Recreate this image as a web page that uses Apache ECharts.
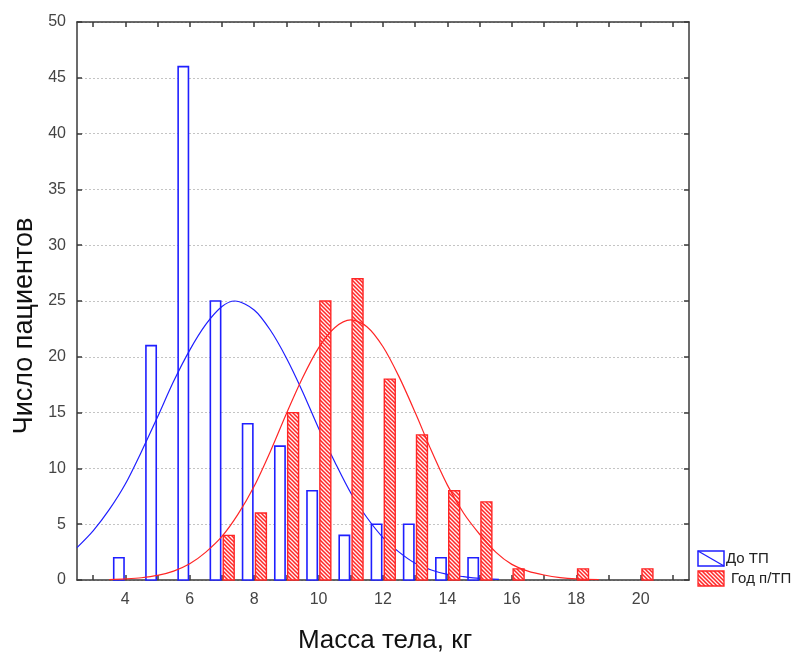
<!DOCTYPE html>
<html>
<head>
<meta charset="utf-8">
<script src="https://cdn.jsdelivr.net/npm/echarts@6/dist/echarts.min.js"></script>
<style>
  html, body { margin: 0; padding: 0; background: #fff; }
  #chart { width: 803px; height: 655px; }
</style>
</head>
<body>
<div id="chart"></div>
<script>
// Histogram bins (body mass, kg) and patient counts per group
const bins = [4, 5, 6, 7, 8, 9, 10, 11, 12, 13, 14, 15, 16, 17, 18, 19, 20];
const countBefore = [2, 21, 46, 25, 14, 12, 8, 4, 5, 5, 2, 2, 0, 0, 0, 0, 0];
const countYearAfter = [0, 0, 0, 4, 6, 15, 25, 27, 18, 13, 8, 7, 1, 0, 1, 0, 1];

// Fitted normal curves, sampled points [mass, count]
const curveBefore = [
  [2.5, 2.9], [3, 4.4], [3.5, 6.3], [4, 8.6], [4.5, 11.5], [5, 14.6], [5.5, 17.8],
  [6, 20.6], [6.5, 22.9], [7, 24.5], [7.4, 25.0], [8, 24.2], [8.5, 22.4], [9, 19.9],
  [9.5, 16.9], [10, 13.6], [10.5, 10.6], [11, 7.8], [11.5, 5.6], [12, 3.8], [12.5, 2.5],
  [13, 1.5], [13.5, 0.9], [14, 0.5], [14.5, 0.3], [15, 0.14], [15.6, 0.05]
];
const curveYearAfter = [
  [3.5, 0.04], [4, 0.1], [4.5, 0.2], [5, 0.41], [5.5, 0.8], [6, 1.45], [6.5, 2.5],
  [7, 3.9], [7.5, 5.9], [8, 8.4], [8.5, 11.5], [9, 14.9], [9.5, 18.1], [10, 20.8],
  [10.5, 22.6], [11, 23.3], [11.5, 22.7], [12, 20.9], [12.5, 18.2], [13, 15.0],
  [13.5, 11.6], [14, 8.5], [14.5, 6.0], [15, 4.1], [15.5, 2.5], [16, 1.4], [16.5, 0.8],
  [17, 0.45], [17.5, 0.22], [18, 0.1], [18.7, 0.03]
];

const xTicks = [3, 4, 5, 6, 7, 8, 9, 10, 11, 12, 13, 14, 15, 16, 17, 18, 19, 20, 21];
const xLabels = [4, 6, 8, 10, 12, 14, 16, 18, 20];

const seriesNames = ['До ТП', 'Год п/ТП'];
const xTitle = 'Масса тела, кг';
const yTitle = 'Число пациентов';

const BLUE = '#1f1fff';
const RED = '#ff2626';
const FRAME = '#3a3a3a';
const FONT = '"Liberation Sans", Arial, sans-serif';

// Diagonal hatch fill for the second group
function hatchPattern() {
  const c = document.createElement('canvas');
  c.width = 4; c.height = 4;
  const g = c.getContext('2d');
  g.fillStyle = '#fff2f2';
  g.fillRect(0, 0, 4, 4);
  g.strokeStyle = RED;
  g.lineWidth = 1.5;
  g.beginPath();
  g.moveTo(-1, -1); g.lineTo(5, 5);
  g.moveTo(-1, 3); g.lineTo(1, 5);
  g.moveTo(3, -1); g.lineTo(5, 1);
  g.stroke();
  return c;
}
const hatch = { image: hatchPattern(), repeat: 'repeat' };

function barSeries(name, values, left, right, style, z) {
  return {
    name: name,
    type: 'custom',
    z: z,
    data: bins.map((b, i) => [b, values[i]]),
    renderItem: function (params, api) {
      const x = api.value(0), v = api.value(1);
      if (!v) return null;
      const p0 = api.coord([x + left, v]);
      const p1 = api.coord([x + right, 0]);
      return {
        type: 'rect',
        shape: { x: p0[0], y: p0[1], width: p1[0] - p0[0], height: p1[1] - p0[1] },
        style: style
      };
    }
  };
}

const chart = echarts.init(document.getElementById('chart'), null, { renderer: 'canvas' });

const tickCommon = { show: true, inside: true, length: 5, lineStyle: { color: FRAME, width: 1.5 } };
const lineCommon = { show: true, onZero: false, lineStyle: { color: FRAME, width: 1.5 } };

chart.setOption({
  animation: false,
  backgroundColor: '#ffffff',
  grid: { left: 77, top: 22, right: 114, bottom: 75, containLabel: false },
  xAxis: [
    {
      type: 'value', min: 2.5, max: 21.5, position: 'bottom',
      axisLine: lineCommon,
      axisTick: Object.assign({}, tickCommon, { customValues: xTicks }),
      axisLabel: { customValues: xLabels, color: '#444', fontSize: 16, fontFamily: FONT, margin: 12 },
      splitLine: { show: false }
    },
    {
      type: 'value', min: 2.5, max: 21.5, position: 'top',
      axisLine: lineCommon,
      axisTick: Object.assign({}, tickCommon, { customValues: xTicks }),
      axisLabel: { show: false },
      splitLine: { show: false }
    }
  ],
  yAxis: [
    {
      type: 'value', min: 0, max: 50, interval: 5, position: 'left',
      axisLine: lineCommon,
      axisTick: tickCommon,
      axisLabel: { color: '#444', fontSize: 16, fontFamily: FONT, margin: 11 },
      splitLine: { show: true, lineStyle: { color: '#c4c4c4', type: [2, 2], width: 1 } }
    },
    {
      type: 'value', min: 0, max: 50, interval: 5, position: 'right',
      axisLine: lineCommon,
      axisTick: tickCommon,
      axisLabel: { show: false },
      splitLine: { show: false }
    }
  ],
  series: [
    barSeries(seriesNames[0], countBefore, -0.36, -0.04,
      { fill: '#ffffff', stroke: BLUE, lineWidth: 1.6 }, 2),
    {
      name: seriesNames[0] + ' fit', type: 'line', data: curveBefore, smooth: 0.3,
      showSymbol: false, z: 3, lineStyle: { color: BLUE, width: 1.2 }, itemStyle: { color: BLUE }
    },
    barSeries(seriesNames[1], countYearAfter, 0.04, 0.38,
      { fill: hatch, stroke: RED, lineWidth: 1.4 }, 4),
    {
      name: seriesNames[1] + ' fit', type: 'line', data: curveYearAfter, smooth: 0.3,
      showSymbol: false, z: 5, lineStyle: { color: RED, width: 1.2 }, itemStyle: { color: RED }
    }
  ],
  graphic: [
    {
      type: 'text', x: 385, y: 641,
      style: { text: xTitle, fontSize: 26, fontFamily: FONT, fill: '#111', align: 'center', verticalAlign: 'middle' }
    },
    {
      type: 'text', x: 25, y: 326, rotation: Math.PI / 2,
      style: { text: yTitle, fontSize: 27, fontFamily: FONT, fill: '#111', align: 'center', verticalAlign: 'middle' }
    },
    // Legend
    {
      type: 'group', x: 698, y: 551,
      children: [
        { type: 'rect', shape: { x: 0, y: 0, width: 26, height: 15 }, style: { fill: '#fff', stroke: BLUE, lineWidth: 1.5 } },
        { type: 'line', shape: { x1: 0, y1: 0, x2: 26, y2: 15 }, style: { stroke: BLUE, lineWidth: 1.3 } },
        { type: 'text', x: 28, y: 8, style: { text: seriesNames[0], fontSize: 15, fontFamily: FONT, fill: '#222', verticalAlign: 'middle' } },
        { type: 'rect', shape: { x: 0, y: 20, width: 26, height: 15 }, style: { fill: hatch, stroke: RED, lineWidth: 1.3 } },
        { type: 'text', x: 33, y: 28, style: { text: seriesNames[1], fontSize: 15, fontFamily: FONT, fill: '#222', verticalAlign: 'middle' } }
      ]
    }
  ]
});
</script>
</body>
</html>
